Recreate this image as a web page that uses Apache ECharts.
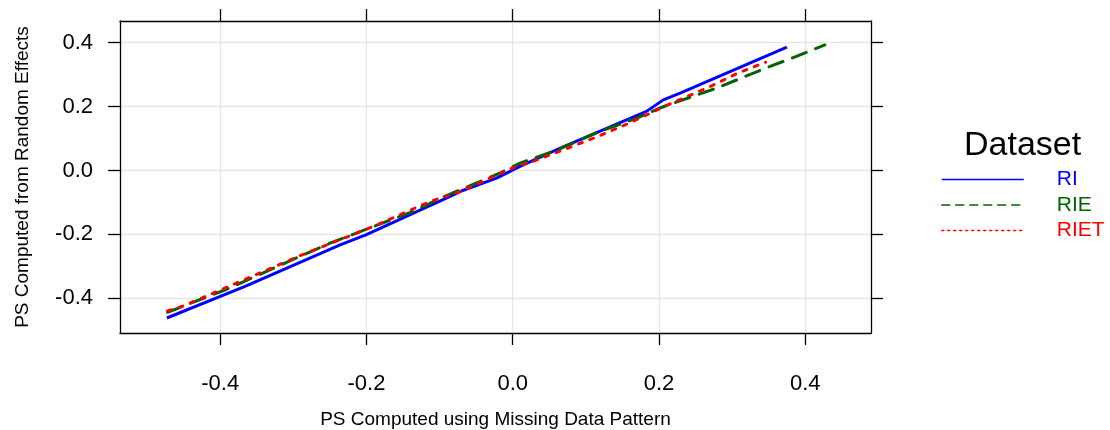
<!DOCTYPE html>
<html>
<head>
<meta charset="utf-8">
<script src="https://cdn.jsdelivr.net/npm/echarts@6/dist/echarts.min.js"></script>
<style>
  html, body { margin: 0; padding: 0; background: #fff; }
  #chartPs { width: 1110px; height: 430px; }
</style>
</head>
<body>
<div id="chartPs"></div>
<script>
// 数据 - 读取自原图
const tickValues = [-0.4, -0.2, 0.0, 0.2, 0.4];

const riX = [-0.473, -0.366, -0.236, -0.200, -0.090, -0.072, -0.022, 0.010, 0.065, 0.183, 0.206, 0.229, 0.375];
const riY = [-0.462, -0.363, -0.233, -0.201, -0.086, -0.066, -0.024, 0.013, 0.070, 0.185, 0.221, 0.242, 0.386];

const rieX = [-0.472, -0.391, -0.291, -0.249, -0.136, -0.093, -0.017, 0.010, 0.062, 0.119, 0.170, 0.204, 0.279, 0.352, 0.388, 0.427];
const rieY = [-0.444, -0.372, -0.269, -0.227, -0.128, -0.081, -0.008, 0.023, 0.065, 0.122, 0.164, 0.198, 0.258, 0.326, 0.357, 0.393];

const rietX = [-0.472, -0.450, -0.290, -0.188, -0.113, -0.072, 0.005, 0.024, 0.081, 0.115, 0.156, 0.212, 0.270, 0.308, 0.346];
const rietY = [-0.440, -0.424, -0.266, -0.173, -0.097, -0.066, 0.013, 0.025, 0.075, 0.105, 0.145, 0.205, 0.263, 0.305, 0.339];

function pairs(xs, ys) {
  return xs.map((x, i) => [x, ys[i]]);
}

const font = 'Liberation Sans, Arial, sans-serif';
const xMin = -0.537, xMax = 0.490;
const yMin = -0.509, yMax = 0.468;

let chartPs = echarts.init(document.getElementById('chartPs'));

const tickStyle = {
  show: true,
  inside: false,
  length: 12,
  lineStyle: { color: '#000', width: 1.3 },
  customValues: tickValues
};

let option = {
  animation: false,
  backgroundColor: '#fff',
  textStyle: { fontFamily: font },
  grid: {
    left: 120,
    top: 21,
    right: 239,
    bottom: 97,
    containLabel: false,
    outerBoundsMode: 'none'
  },
  title: {
    text: 'Dataset',
    left: 964,
    top: 129,
    padding: 0,
    textStyle: {
      fontFamily: font,
      fontSize: 34,
      fontWeight: 'normal',
      color: '#000'
    }
  },
  legend: {
    orient: 'vertical',
    left: 941,
    top: 169,
    itemWidth: 82,
    itemHeight: 14,
    itemGap: 4.5,
    padding: 0,
    formatter: '{gap|}{name}',
    textStyle: {
      fontFamily: font,
      fontSize: 21,
      rich: { gap: { width: 28 } }
    },
    data: [
      { name: 'RI', itemStyle: { opacity: 0 }, lineStyle: { width: 1.5, type: 'solid' }, textStyle: { color: '#0000ff' } },
      { name: 'RIE', itemStyle: { opacity: 0 }, lineStyle: { width: 1.5, type: [8, 6] }, textStyle: { color: '#006400' } },
      { name: 'RIET', itemStyle: { opacity: 0 }, lineStyle: { width: 1.5, type: [2, 4] }, textStyle: { color: '#ff0000' } }
    ]
  },
  xAxis: [
    {
      type: 'value',
      position: 'bottom',
      min: xMin,
      max: xMax,
      name: 'PS Computed using Missing Data Pattern',
      nameLocation: 'middle',
      nameGap: 77,
      nameTextStyle: { fontFamily: font, fontSize: 19, color: '#000' },
      axisLine: { show: true, onZero: false, lineStyle: { color: '#000', width: 1.3 } },
      axisTick: tickStyle,
      axisLabel: {
        fontFamily: font,
        fontSize: 22,
        color: '#000',
        margin: 40,
        customValues: tickValues,
        formatter: v => v.toFixed(1)
      },
      splitLine: { show: true, lineStyle: { color: '#e6e6e6', width: 1.3 } }
    },
    {
      type: 'value',
      position: 'top',
      min: xMin,
      max: xMax,
      axisLine: { show: true, onZero: false, lineStyle: { color: '#000', width: 1.3 } },
      axisTick: tickStyle,
      axisLabel: { show: false },
      splitLine: { show: false }
    }
  ],
  yAxis: [
    {
      type: 'value',
      position: 'left',
      min: yMin,
      max: yMax,
      name: 'PS Computed from Random Effects',
      nameLocation: 'middle',
      nameGap: 88,
      nameTextStyle: { fontFamily: font, fontSize: 19, color: '#000' },
      axisLine: { show: true, onZero: false, lineStyle: { color: '#000', width: 1.3 } },
      axisTick: tickStyle,
      axisLabel: {
        fontFamily: font,
        fontSize: 22,
        color: '#000',
        margin: 27,
        customValues: tickValues,
        formatter: v => v.toFixed(1)
      },
      splitLine: { show: true, lineStyle: { color: '#e6e6e6', width: 1.3 } }
    },
    {
      type: 'value',
      position: 'right',
      min: yMin,
      max: yMax,
      axisLine: { show: true, onZero: false, lineStyle: { color: '#000', width: 1.3 } },
      axisTick: tickStyle,
      axisLabel: { show: false },
      splitLine: { show: false }
    }
  ],
  series: [
    {
      name: 'RI',
      type: 'line',
      xAxisIndex: 0,
      yAxisIndex: 0,
      symbol: 'none',
      color: '#0000ff',
      lineStyle: { color: '#0000ff', width: 3 },
      data: pairs(riX, riY)
    },
    {
      name: 'RIE',
      type: 'line',
      xAxisIndex: 0,
      yAxisIndex: 0,
      symbol: 'none',
      color: '#006400',
      lineStyle: { color: '#006400', width: 3, type: [15, 10], cap: 'round' },
      data: pairs(rieX, rieY)
    },
    {
      name: 'RIET',
      type: 'line',
      xAxisIndex: 0,
      yAxisIndex: 0,
      symbol: 'none',
      color: '#ff0000',
      lineStyle: { color: '#ff0000', width: 3, type: [4, 8], cap: 'round' },
      data: pairs(rietX, rietY)
    }
  ]
};
chartPs.setOption(option);
</script>
</body>
</html>
